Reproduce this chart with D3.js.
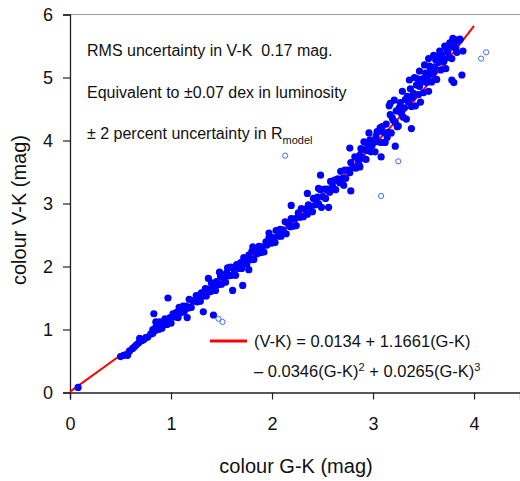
<!DOCTYPE html>
<html>
<head>
<meta charset="utf-8">
<script src="https://cdn.jsdelivr.net/npm/d3@7"></script>
<style>
  body { margin: 0; background: #fff; }
  svg { display: block; font-family: Arial, "Liberation Sans", sans-serif; }
</style>
</head>
<body>
<div id="chart"></div>
<script>
// colour G-K vs colour V-K, stars used in the fit (filled)
var gk = [0.08,
  0.50,0.53,0.57,0.59,0.62,0.64,0.66,0.68,0.69,0.71,0.73,0.75,0.77,0.80,0.82,0.82,0.84,0.85,
  0.86,0.88,0.89,0.91,0.93,0.94,0.96,0.99,1.00,1.02,1.03,1.05,1.07,1.08,1.10,1.12,1.13,1.15,1.17,1.18,
  1.20,1.21,1.23,1.25,1.26,1.28,1.29,1.30,
  0.97,0.83,1.32,1.42,1.16,0.85,
  1.32,1.34,1.35,1.37,1.39,1.40,1.42,1.44,1.45,1.47,1.49,1.50,1.52,1.54,1.55,1.57,1.59,1.60,1.62,1.64,
  1.65,1.67,1.69,1.70,1.72,1.74,1.75,1.77,1.79,1.80,1.82,1.84,1.85,1.87,1.89,1.90,1.92,1.94,1.95,1.97,1.99,
  1.37,1.48,1.56,1.61,1.71,1.77,1.81,1.97,
  2.01,2.03,2.04,2.06,2.08,2.09,2.11,2.13,2.14,2.16,2.18,2.19,2.21,2.23,2.24,2.26,2.28,2.29,2.31,2.33,
  2.35,2.36,2.38,2.40,2.41,2.43,2.45,2.46,2.48,2.50,2.52,2.53,2.55,2.57,2.58,2.60,2.62,2.63,2.65,2.67,
  2.68,2.70,2.72,2.73,2.75,2.77,2.78,2.80,
  2.19,2.49,2.56,2.35,2.48,2.46,2.78,2.71,2.87,
  2.82,2.83,2.85,2.87,2.88,2.90,2.92,2.93,2.95,2.97,2.98,3.00,3.02,3.03,3.05,3.07,3.08,3.10,3.12,3.13,
  3.15,3.17,3.18,3.20,3.22,3.23,3.25,3.27,3.28,3.30,3.32,3.33,3.35,3.37,3.38,3.40,3.42,3.43,3.45,3.47,
  3.48,3.50,3.52,3.53,3.55,3.57,3.58,3.60,3.62,3.63,3.65,3.67,3.68,3.70,3.72,3.73,3.75,3.77,3.78,3.80,
  3.82,3.84,3.86,
  3.16,3.21,3.29,3.36,3.41,3.46,3.51,3.55,3.60,3.66,3.71,3.79,
  3.19,3.24,3.26,3.31,3.34,3.39,3.44,3.46,3.49,3.54,3.56,3.59,3.61,3.64,3.69,3.74,3.76,3.81,3.83,
  2.99,3.04,3.09,3.14,2.91,2.86,2.94,
  2.96,2.77,3.08,3.22,3.38,3.17,3.88,3.78,3.80,3.89,3.86];
var vk = [0.08,
  0.57,0.59,0.59,0.66,0.70,0.73,0.76,0.79,0.86,0.82,0.84,0.87,0.88,0.93,0.94,1.00,0.98,1.04,
  1.06,1.00,1.12,1.02,1.09,1.17,1.08,1.19,1.10,1.25,1.20,1.27,1.19,1.35,1.27,1.37,1.28,1.37,1.34,1.48,
  1.35,1.46,1.45,1.54,1.44,1.54,1.45,1.58,
  1.50,1.25,1.28,1.23,1.19,1.12,
  1.53,1.65,1.53,1.64,1.60,1.74,1.68,1.62,1.76,1.71,1.84,1.72,1.82,1.75,1.90,1.85,1.99,1.86,1.96,1.86,
  2.03,1.97,2.06,1.97,2.14,2.08,2.04,2.18,2.11,2.24,2.11,2.24,2.20,2.32,2.22,2.31,2.23,2.39,2.34,2.46,2.37,
  1.81,1.91,1.98,1.62,1.70,1.95,2.31,2.53,
  2.46,2.38,2.57,2.48,2.59,2.48,2.58,2.71,2.52,2.68,2.63,2.76,2.64,2.76,2.65,2.85,2.78,2.92,2.79,2.91,
  2.83,2.98,2.95,2.87,3.08,2.98,3.10,3.00,3.22,3.11,3.23,3.08,3.23,3.18,3.35,3.27,3.37,3.22,3.39,3.33,
  3.51,3.40,3.53,3.40,3.53,3.49,3.65,3.57,
  2.97,2.94,2.94,3.16,3.45,3.24,3.20,3.29,3.77,
  3.74,3.56,3.70,3.58,3.87,3.72,3.85,3.70,3.84,4.01,3.82,3.97,3.82,4.07,3.98,4.20,3.97,4.13,3.97,4.26,
  4.13,4.41,4.12,4.32,4.29,4.47,4.23,4.60,4.43,4.37,4.65,4.34,4.61,4.82,4.54,4.75,4.55,4.88,4.73,4.61,
  4.93,4.76,5.07,4.92,4.78,5.11,4.93,5.10,5.28,4.97,5.24,5.12,5.36,5.25,5.14,5.44,5.32,5.48,5.30,5.52,
  5.47,5.58,5.60,
  4.55,4.64,4.78,4.96,5.00,5.10,5.20,5.30,5.35,5.42,5.50,5.62,
  4.36,4.22,4.52,4.52,4.70,4.68,4.98,4.86,4.98,5.02,5.18,5.05,5.17,5.33,5.30,5.40,5.55,5.60,5.40,
  3.92,4.14,4.22,4.05,3.98,3.62,3.95,
  4.12,3.88,3.74,3.91,4.19,4.59,5.04,4.96,4.92,5.42,5.61];

// stars left out of the fit (open circles)
var gkOut = [1.47, 1.51, 2.13, 3.08, 3.25, 4.07, 4.12];
var vkOut = [1.17, 1.12, 3.76, 3.12, 3.67, 5.30, 5.40];

// fitted relation
var fitGK = [0, 0.5, 1.0, 1.5, 2.0, 2.5, 3.0, 3.5, 4.0];
var fitVK = [0.013, 0.591, 1.171, 1.774, 2.419, 3.127, 3.916, 4.807, 5.820];

var xTicks = [0, 1, 2, 3, 4];
var yTicks = [0, 1, 2, 3, 4, 5, 6];

var notes = ["RMS uncertainty in V-K  0.17 mag.",
             "Equivalent to \u00b10.07 dex in luminosity"];

var w = 520, h = 481;
var x = d3.scaleLinear().domain([0, 4.455]).range([70, 520]);
var y = d3.scaleLinear().domain([0, 6]).range([392.5, 14.5]);

var svg = d3.select("#chart").append("svg")
  .attr("width", w).attr("height", h);

// top frame line
svg.append("line")
  .attr("x1", 70).attr("x2", 520)
  .attr("y1", y(6)).attr("y2", y(6))
  .attr("stroke", "#999").attr("stroke-width", 1.2);

var xAxis = svg.append("g")
  .attr("transform", "translate(0," + y(0) + ")")
  .call(d3.axisBottom(x).tickValues(xTicks).tickSize(7).tickPadding(18).tickFormat(d3.format("d")));
var yAxis = svg.append("g")
  .attr("transform", "translate(" + x(0) + ",0)")
  .call(d3.axisLeft(y).tickValues(yTicks).tickSize(7).tickPadding(10).tickFormat(d3.format("d")));

[xAxis, yAxis].forEach(function(a) {
  a.select(".domain").attr("stroke", "#222").attr("stroke-width", 1.3);
  a.selectAll(".tick line").attr("stroke", "#222").attr("stroke-width", 1.2);
  a.selectAll(".tick text").attr("font-size", 18).attr("fill", "#111")
    .attr("font-family", "Arial, 'Liberation Sans', sans-serif");
});

svg.append("text")
  .attr("x", 296).attr("y", 473)
  .attr("text-anchor", "middle").attr("font-size", 20).attr("fill", "#111")
  .text("colour G-K (mag)");
svg.append("text")
  .attr("transform", "translate(26,210) rotate(-90)")
  .attr("text-anchor", "middle").attr("font-size", 20).attr("fill", "#111")
  .text("colour V-K (mag)");

// fit curve
var fitLine = d3.line()
  .x(function(d, i) { return x(fitGK[i]); })
  .y(function(d) { return y(d); })
  .curve(d3.curveNatural);
svg.append("path")
  .attr("d", fitLine(fitVK))
  .attr("fill", "none").attr("stroke", "#ff0000").attr("stroke-width", 2);

svg.append("g").selectAll("circle")
  .data(vk)
  .enter().append("circle")
  .attr("cx", function(d, i) { return x(gk[i]); })
  .attr("cy", function(d) { return y(d); })
  .attr("r", 3.6)
  .attr("fill", "#0000ff");

svg.append("g").selectAll("circle")
  .data(vkOut)
  .enter().append("circle")
  .attr("cx", function(d, i) { return x(gkOut[i]); })
  .attr("cy", function(d) { return y(d); })
  .attr("r", 2.6)
  .attr("fill", "#fff").attr("stroke", "#3a6cff").attr("stroke-width", 1);

// annotations
svg.selectAll("text.note")
  .data(notes)
  .enter().append("text")
  .attr("class", "note")
  .attr("x", 87)
  .attr("y", function(d, i) { return 56 + i * 41.5; })
  .attr("font-size", 16).attr("fill", "#111")
  .style("white-space", "pre")
  .text(function(d) { return d; });

var r = svg.append("text").attr("x", 87).attr("y", 139)
  .attr("font-size", 16).attr("fill", "#111");
r.append("tspan").text("\u00b1 2 percent uncertainty in R");
r.append("tspan").attr("font-size", 11).attr("dy", 5).text("model");

// legend
svg.append("line")
  .attr("x1", 210).attr("x2", 247).attr("y1", 341).attr("y2", 341)
  .attr("stroke", "#ff0000").attr("stroke-width", 3);
svg.append("text").attr("x", 254).attr("y", 347)
  .attr("font-size", 16.5).attr("fill", "#111")
  .text("(V-K) = 0.0134 + 1.1661(G-K)");
var l2 = svg.append("text").attr("x", 254).attr("y", 377)
  .attr("font-size", 16.5).attr("fill", "#111");
l2.append("tspan").text("\u2013 0.0346(G-K)");
l2.append("tspan").attr("font-size", 11).attr("dy", -6).text("2");
l2.append("tspan").attr("dy", 6).text(" + 0.0265(G-K)");
l2.append("tspan").attr("font-size", 11).attr("dy", -6).text("3");
</script>
</body>
</html>
